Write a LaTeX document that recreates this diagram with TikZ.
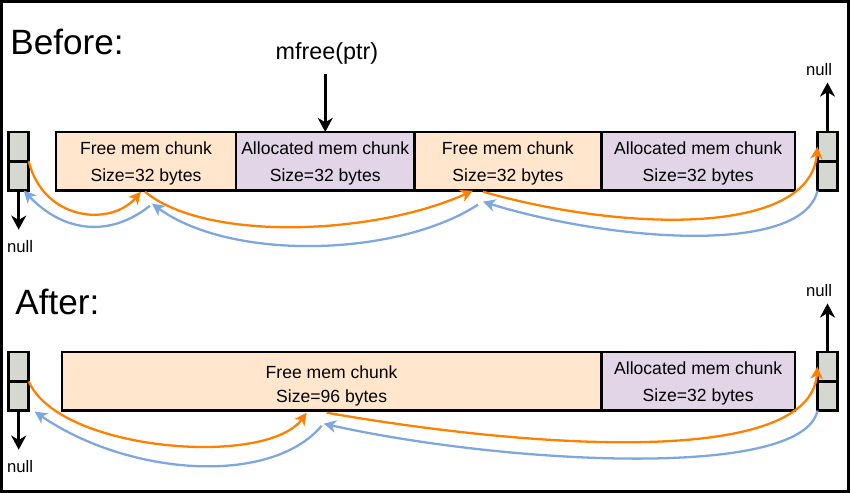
\documentclass[tikz,border=0pt]{standalone}
\usepackage{fontspec}
\setmainfont{Liberation Sans}
\usetikzlibrary{arrows.meta,calc}

\definecolor{freefill}{HTML}{FFE6CC}
\definecolor{allocfill}{HTML}{E1D5E7}
\definecolor{ptrfill}{RGB}{213,216,209}
\definecolor{nextcol}{HTML}{FF8000}
\definecolor{prevcol}{HTML}{7EA6E0}

\begin{document}
\begin{tikzpicture}[x=0.02cm, y=-0.02cm,
        chunk/.style={draw, line width=1.7pt, inner sep=0pt, outer sep=0pt, anchor=north west,
            minimum height=58.7*\unitpx, align=center, font=\fontsize{10}{15.3}\selectfont},
        ptrcell/.style={draw, fill=ptrfill, line width=1.7pt, inner sep=0pt, outer sep=0pt, anchor=north west,
            minimum width=20*\unitpx, minimum height=29.3*\unitpx},
        heading/.style={font=\fontsize{20}{24}\selectfont, inner sep=0pt, anchor=base west},
        nulltxt/.style={font=\fontsize{9.5}{11}\selectfont, inner sep=0pt, anchor=base},
        nullarrow/.style={line width=1.5pt, -{Stealth[length=8pt, width=8.5pt, inset=2.5pt]}},
        nextlink/.style={draw=nextcol, line width=1.3pt, -{Stealth[length=7pt, width=7pt, inset=2pt]}},
        prevlink/.style={draw=prevcol, line width=1.3pt, -{Stealth[length=7pt, width=7pt, inset=2pt]}}]
            \def \unitpx     {0.02cm}
            \def \ytopA      {132}
            \def \ymidA      {161.3}
            \def \ytopB      {352}
            \def \ymidB      {381.3}
            \def \xptrL      {8.7}
            \def \xptrR      {817.5}
            \def \chunkstrut {\rule{0pt}{10pt}}

            \useasboundingbox (0,0) rectangle (850,493);
            \draw [line width=1.7pt] (1.5,1.5) rectangle (848.5,491.5);

% headings
            \node [heading] (before) at (10,55) {Before:};
            \node [heading] (after) at (15,315) {After:};
            \node [font=\fontsize{13.3}{16}\selectfont, inner sep=0pt, anchor=base] (mfree) at (327,60) {mfree(ptr)};

% chunks before
            \node [chunk, fill=freefill, minimum width=180*\unitpx] (freeA) at (56, \ytopA) {\chunkstrut Free mem chunk\\Size=32 bytes};
            \node [chunk, fill=allocfill, minimum width=178.5*\unitpx] (allocA) at (236, \ytopA) {\chunkstrut Allocated mem chunk\\Size=32 bytes};
            \node [chunk, fill=freefill, minimum width=186.8*\unitpx] (freeB) at (414.5, \ytopA) {\chunkstrut Free mem chunk\\Size=32 bytes};
            \node [chunk, fill=allocfill, minimum width=193.7*\unitpx] (allocB) at (601.3, \ytopA) {\chunkstrut Allocated mem chunk\\Size=32 bytes};

% chunks after
            \node [chunk, fill=freefill, minimum width=539.3*\unitpx, font=\fontsize{10}{13.6}\selectfont] (freeC) at (62, \ytopB) {\rule{0pt}{13pt}Free mem chunk\\Size=96 bytes};
            \node [chunk, fill=allocfill, minimum width=193.7*\unitpx] (allocC) at (601.3, \ytopB) {\chunkstrut Allocated mem chunk\\Size=32 bytes};

% list heads
            \node [ptrcell] (ptrLhiA) at (\xptrL, \ytopA) {};
            \node [ptrcell] (ptrLloA) at (\xptrL, \ymidA) {};
            \node [ptrcell] (ptrRhiA) at (\xptrR, \ytopA) {};
            \node [ptrcell] (ptrRloA) at (\xptrR, \ymidA) {};
            \node [ptrcell] (ptrLhiB) at (\xptrL, \ytopB) {};
            \node [ptrcell] (ptrLloB) at (\xptrL, \ymidB) {};
            \node [ptrcell] (ptrRhiB) at (\xptrR, \ytopB) {};
            \node [ptrcell] (ptrRloB) at (\xptrR, \ymidB) {};

% null ends
            \node [nulltxt] (nullLA) at (20, 253) {null};
            \node [nulltxt] (nullRA) at (819, 76) {null};
            \node [nulltxt] (nullLB) at (20, 473) {null};
            \node [nulltxt] (nullRB) at (819, 297) {null};
            \draw [nullarrow, shorten >=6.2pt] (ptrLloA.south) -- (ptrLloA.south |- nullLA.north);
            \draw [nullarrow, shorten >=3.4pt] (ptrRhiA.north) -- (ptrRhiA.north |- nullRA.south);
            \draw [nullarrow, shorten >=6.2pt] (ptrLloB.south) -- (ptrLloB.south |- nullLB.north);
            \draw [nullarrow, shorten >=3.4pt] (ptrRhiB.north) -- (ptrRhiB.north |- nullRB.south);
            \draw [nullarrow, shorten <=5pt] (allocA.north |- mfree.south) -- (allocA.north);

% next links before
            \draw [nextlink] (ptrLloA.north east) .. controls +(15,60) and +(-30,35) .. ($(freeA.south)+(-5,1)$);
            \draw [nextlink] ($(freeA.south)+(-1,1)$) .. controls +(60,50) and +(-100,45) .. ($(freeB.south)+(-35,0)$);
            \draw [nextlink] ($(freeB.south)+(-25,1)$) .. controls +(140,40) and +(-8,90) .. (ptrRhiA.west);
% prev links before
            \draw [prevlink] (ptrRloA.south west) .. controls +(-15,65) and +(130,40) .. ($(freeB.south)+(-25,11)$);
            \draw [prevlink] ($(freeB.south)+(-30,14)$) .. controls +(-80,52) and +(80,58) .. ($(freeA.south)+(6,13)$);
            \draw [prevlink] ($(freeA.south)+(4,15)$) .. controls +(-40,32) and +(40,42) .. ($(ptrLloA.south)+(5,0)$);

% next links after
            \draw [nextlink] (ptrLloB.north east) .. controls +(30,70) and +(-40,55) .. ($(freeC.south)+(-25,2)$);
            \draw [nextlink] ($(freeC.south)+(-5,2)$) .. controls +(200,35) and +(-8,102) .. (ptrRhiB.west);
% prev links after
            \draw [prevlink] (ptrRloB.south west) .. controls +(-15,70) and +(180,40) .. ($(freeC.south)+(-8,13)$);
            \draw [prevlink] ($(freeC.south)+(-10,15)$) .. controls +(-50,60) and +(95,65) .. ($(ptrLloB.south east)+(6,1)$);

\end{tikzpicture}
\end{document}
